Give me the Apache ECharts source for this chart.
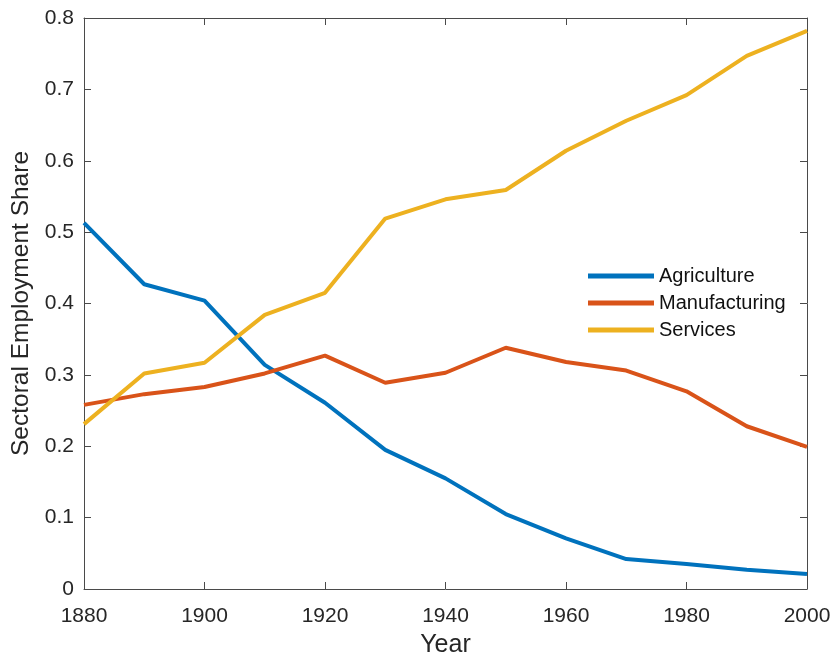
<!DOCTYPE html>
<html>
<head>
<meta charset="utf-8">
<script src="https://cdn.jsdelivr.net/npm/echarts@6/dist/echarts.min.js"></script>
<style>html,body{margin:0;padding:0;background:#fff}#c{width:832px;height:656px}</style>
</head>
<body>
<div id="c"></div>
<script>
const years = [1880,1890,1900,1910,1920,1930,1940,1950,1960,1970,1980,1990,2000];
const agriculture = [0.513,0.427,0.404,0.314,0.261,0.195,0.155,0.105,0.071,0.042,0.035,0.027,0.021];
const manufacturing = [0.258,0.273,0.283,0.302,0.327,0.289,0.303,0.338,0.318,0.306,0.277,0.228,0.199];
const services = [0.231,0.302,0.317,0.384,0.415,0.519,0.546,0.559,0.614,0.656,0.692,0.747,0.782];
const seriesNames = ['Agriculture','Manufacturing','Services'];
const colors = ['#0072BD','#D95319','#EDB120'];
const xTicks = {min:1880, max:2000, interval:20};
const yTicks = {min:0, max:0.8, interval:0.1};

const font = 'Liberation Sans, Arial, Helvetica, sans-serif';
const axisColor = '#4a4a4a';
const textColor = '#262626';
function pairs(vals){ return years.map((y,i)=>[y, vals[i]]); }
const allVals = [agriculture, manufacturing, services];

const chart = echarts.init(document.getElementById('c'), null, {renderer:'canvas'});
const commonX = {type:'value', min:xTicks.min, max:xTicks.max, interval:xTicks.interval, splitLine:{show:false},
  axisLine:{show:true, onZero:false, lineStyle:{color:axisColor, width:1}},
  axisTick:{show:true, inside:true, length:7, lineStyle:{color:axisColor}}};
const commonY = {type:'value', min:yTicks.min, max:yTicks.max, interval:yTicks.interval, splitLine:{show:false},
  axisLine:{show:true, onZero:false, lineStyle:{color:axisColor, width:1}},
  axisTick:{show:true, inside:true, length:7, lineStyle:{color:axisColor}}};

chart.setOption({
  animation:false,
  backgroundColor:'#fff',
  grid:{left:84, right:25, top:18, bottom:67, containLabel:false, outerBoundsMode:'none'},
  legend:{
    orient:'vertical', left:588, top:266, padding:0,
    itemWidth:66, itemHeight:5, itemGap:7, icon:'rect',
    textStyle:{fontFamily:font, fontSize:20, color:'#111', lineHeight:20, padding:[0,0,0,0]},
    data:seriesNames
  },
  xAxis:[
    Object.assign({}, commonX, {position:'bottom', name:'Year', nameLocation:'middle', nameGap:44,
      nameTextStyle:{fontFamily:font, fontSize:25, color:textColor},
      axisLabel:{fontFamily:font, fontSize:21, color:textColor, margin:17, formatter:v=>String(v)}}),
    Object.assign({}, commonX, {position:'top', axisLabel:{show:false}})
  ],
  yAxis:[
    Object.assign({}, commonY, {position:'left', name:'Sectoral Employment Share', nameLocation:'middle', nameGap:50,
      nameTextStyle:{fontFamily:font, fontSize:24.5, color:textColor},
      axisLabel:{fontFamily:font, fontSize:21, color:textColor, margin:10, formatter:v=>String(Math.round(v*10)/10)}}),
    Object.assign({}, commonY, {position:'right', axisLabel:{show:false}})
  ],
  series: seriesNames.map((n,i)=>({
    name:n, type:'line', xAxisIndex:0, yAxisIndex:0, data:pairs(allVals[i]),
    showSymbol:false, symbol:'none', lineStyle:{color:colors[i], width:4}, itemStyle:{color:colors[i]},
    clip:true
  }))
});
</script>
</body>
</html>
